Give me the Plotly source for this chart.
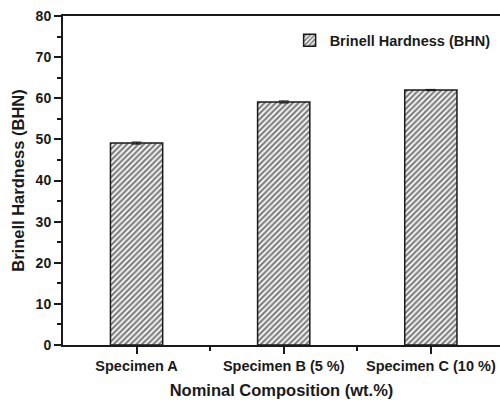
import plotly.graph_objects as go

categories = ["Specimen A", "Specimen B (5 %)", "Specimen C (10 %)"]
hardness = [49.1, 59.1, 62.0]
errors = [0.25, 0.25, 0.15]
series_name = "Brinell Hardness (BHN)"

xpos = list(range(len(categories)))

fig = go.Figure()
fig.add_trace(go.Bar(
    x=xpos, y=hardness, name=series_name, width=0.355,
    marker=dict(color="white", line=dict(color="#1a1a1a", width=1.5),
                pattern=dict(shape="/", fgcolor="#000000", bgcolor="white", size=4, solidity=0.55)),
    error_y=dict(type="data", array=errors, color="#1a1a1a", thickness=1, width=5),
    showlegend=True,
))

font_b = "Liberation Sans"
fig.update_layout(
    width=500, height=403,
    margin=dict(l=63, r=0, t=16, b=58),
    paper_bgcolor="white", plot_bgcolor="white",
    font=dict(family=font_b, color="#1a1a1a"),
    showlegend=True,
    legend=dict(x=0.99, y=0.975, xanchor="right", yanchor="top",
                font=dict(size=14.5, family=font_b, weight="bold"),
                bgcolor="rgba(0,0,0,0)", itemwidth=30),
    xaxis=dict(range=[-0.5, 2.47], tickvals=xpos, ticktext=categories,
               ticks="outside", ticklen=7, tickwidth=1.8, tickcolor="#1a1a1a",
               minor=dict(tickvals=[0.5, 1.5], ticks="outside", ticklen=4, tickwidth=1.8, tickcolor="#1a1a1a"),
               showline=True, linecolor="#1a1a1a", linewidth=2, mirror=True,
               showgrid=False, zeroline=False,
               tickfont=dict(size=14.5, family=font_b, weight="bold"),
               title=dict(text="Nominal Composition (wt.%)", standoff=11,
                          font=dict(size=16.5, family=font_b, weight="bold"))),
    yaxis=dict(range=[0, 80], dtick=10, ticks="outside", ticklen=7, tickwidth=1.8, tickcolor="#1a1a1a",
               minor=dict(dtick=5, ticks="outside", ticklen=4, tickwidth=1.8, tickcolor="#1a1a1a"),
               showline=True, linecolor="#1a1a1a", linewidth=2,
               showgrid=False, zeroline=False,
               tickfont=dict(size=14, family=font_b, weight="bold"),
               title=dict(text="Brinell Hardness (BHN)", standoff=7,
                          font=dict(size=16.5, family=font_b, weight="bold"))),
)

fig.write_html("out.html")
